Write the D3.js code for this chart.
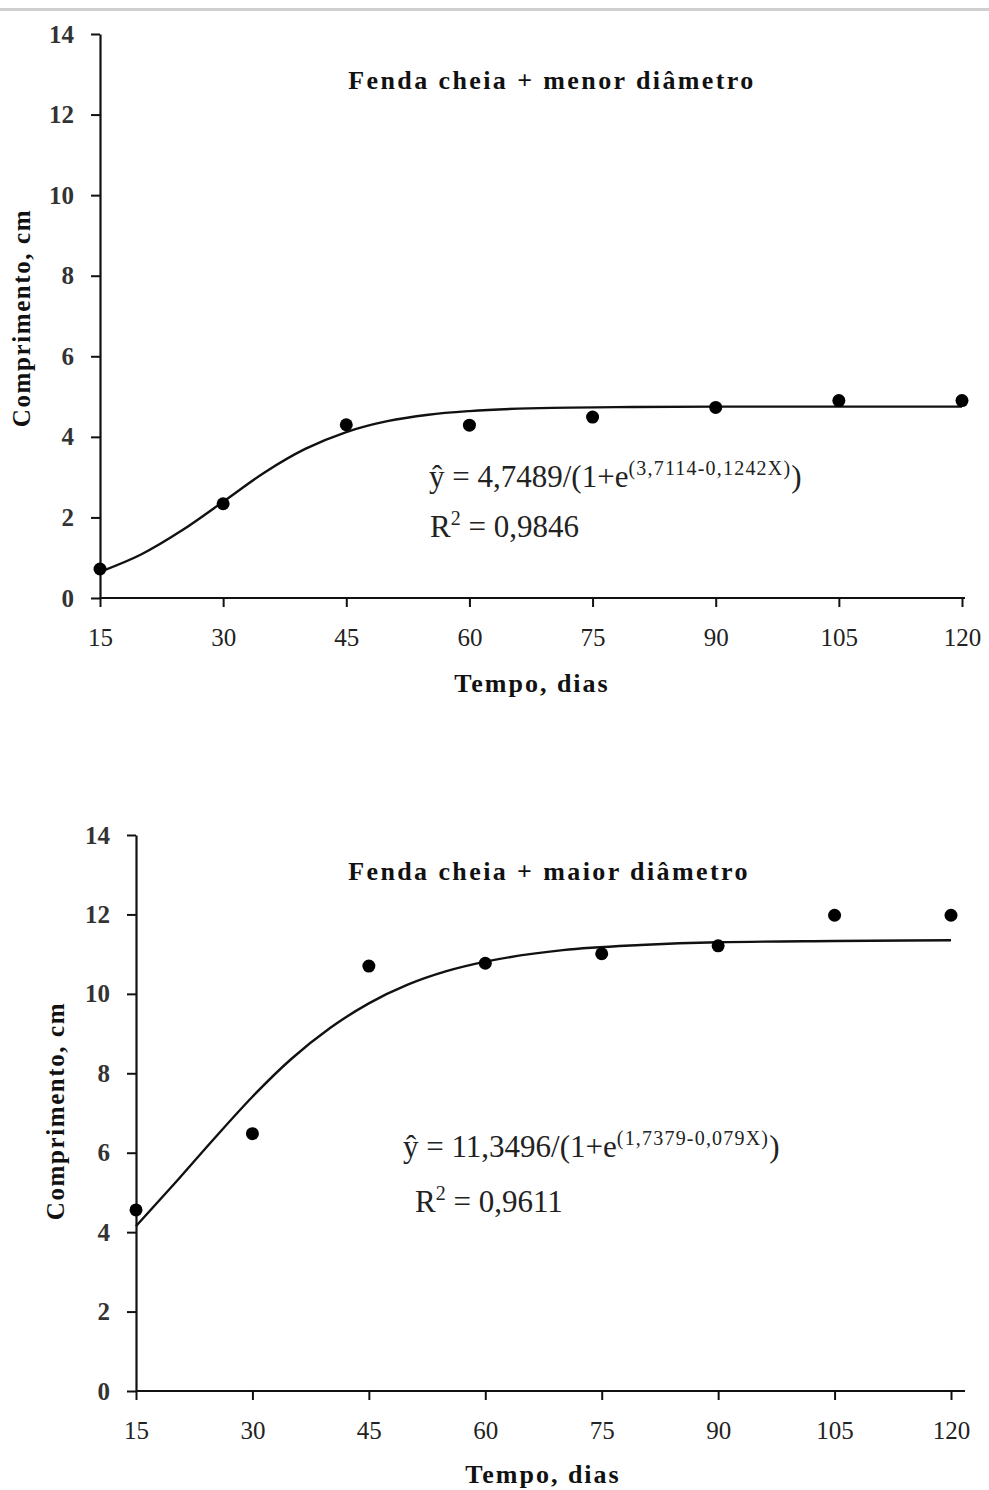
<!DOCTYPE html>
<html><head><meta charset="utf-8">
<script src="https://cdn.jsdelivr.net/npm/d3@7"></script>
<style>
body{margin:0;background:#fff;}
svg{display:block;font-family:"Liberation Serif","Times New Roman",serif;}
</style></head>
<body>
<script>
// ---- data ----
const days = [15, 30, 45, 60, 75, 90, 105, 120];
const yTicks = [0, 2, 4, 6, 8, 10, 12, 14];
const menorObs = [0.72, 2.34, 4.30, 4.29, 4.49, 4.73, 4.90, 4.90];
const maiorObs = [4.56, 6.48, 10.70, 10.77, 11.01, 11.21, 11.98, 11.98];
// fitted curve
const curveX = [15, 20, 25, 30, 35, 40, 45, 50, 55, 60, 70, 80, 90, 105, 120];
const menorFit = [0.65, 1.08, 1.68, 2.39, 3.11, 3.70, 4.12, 4.39, 4.55, 4.64, 4.72, 4.74, 4.75, 4.75, 4.75];
const maiorFit = [4.15, 5.23, 6.34, 7.41, 8.36, 9.14, 9.76, 10.23, 10.57, 10.81, 11.10, 11.23, 11.30, 11.33, 11.35];
const titles = ["Fenda cheia + menor diâmetro", "Fenda cheia + maior diâmetro"];
const eqs = [["4,7489/(1+e", "(3,7114-0,1242X)", ")"], ["11,3496/(1+e", "(1,7379-0,079X)", ")"]];
const r2 = ["0,9846", "0,9611"];
const xTitle = "Tempo, dias";
const yTitle = "Comprimento, cm";

const W = 989, H = 1490;
const svg = d3.select("body").append("svg").attr("width", W).attr("height", H);

svg.append("rect").attr("x", 0).attr("y", 8).attr("width", W).attr("height", 3).attr("fill", "#cfcfcf");

const panels = [
  {obs: menorObs, fit: menorFit, x0: 100, x1: 962, y0: 598, y1: 34, axisEnd: 965,
   title: titles[0], tx: 552, ty: 89, eq: eqs[0], ex: 429, ey: 487, r: r2[0], rx: 430, ry: 537,
   ytx: 30, yty: 318, xtx: 532, xty: 692},
  {obs: maiorObs, fit: maiorFit, x0: 136, x1: 951, y0: 1391, y1: 835, axisEnd: 965,
   title: titles[1], tx: 549, ty: 880, eq: eqs[1], ex: 403, ey: 1157, r: r2[1], rx: 415, ry: 1212,
   ytx: 64, yty: 1111, xtx: 543, xty: 1483}
];

panels.forEach(p => {
  const x = d3.scaleLinear().domain([15, 120]).range([p.x0, p.x1]);
  const y = d3.scaleLinear().domain([0, 14]).range([p.y0, p.y1]);
  const g = svg.append("g");

  // y axis
  const ya = g.append("g").attr("transform", `translate(${p.x0},0)`)
    .call(d3.axisLeft(y).tickValues(yTicks).tickSize(9).tickSizeOuter(0).tickPadding(17));
  ya.select(".domain").attr("stroke", "#111").attr("stroke-width", 2.2);
  ya.selectAll(".tick line").attr("stroke", "#111").attr("stroke-width", 2);
  ya.selectAll(".tick text").attr("font-size", 25).attr("font-weight", "bold")
    .attr("font-family", '"Liberation Serif",serif').attr("fill", "#333");

  // x axis
  const xa = g.append("g").attr("transform", `translate(0,${p.y0})`)
    .call(d3.axisBottom(x).tickValues(days).tickSize(9).tickSizeOuter(0).tickPadding(21));
  xa.select(".domain").attr("d", `M${p.x0},0H${p.axisEnd}`).attr("stroke", "#111").attr("stroke-width", 2.2);
  xa.selectAll(".tick line").attr("stroke", "#111").attr("stroke-width", 2);
  xa.selectAll(".tick text").attr("font-size", 25)
    .attr("font-family", '"Liberation Serif",serif').attr("fill", "#222");

  // fitted curve
  const line = d3.line().x((d, i) => x(curveX[i])).y(d => y(d)).curve(d3.curveMonotoneX);
  g.append("path").datum(p.fit).attr("d", line).attr("fill", "none")
    .attr("stroke", "#111").attr("stroke-width", 2.4);

  // observations
  g.selectAll("circle.pt").data(p.obs).join("circle").attr("class", "pt")
    .attr("cx", (d, i) => x(days[i])).attr("cy", d => y(d)).attr("r", 6.5).attr("fill", "#000");

  // title
  g.append("text").attr("x", p.tx).attr("y", p.ty).attr("text-anchor", "middle")
    .attr("font-size", 26).attr("font-weight", "bold").attr("letter-spacing", 2.4)
    .attr("fill", "#111").text(p.title);

  // equation
  const eq = g.append("text").attr("x", p.ex).attr("y", p.ey).attr("font-size", 31).attr("fill", "#222");
  eq.append("tspan").text("ŷ = " + p.eq[0]);
  eq.append("tspan").attr("font-size", 20).attr("letter-spacing", 1.2).attr("dy", -12).text(p.eq[1]);
  eq.append("tspan").attr("dy", 12).text(p.eq[2]);

  const rt = g.append("text").attr("x", p.rx).attr("y", p.ry).attr("font-size", 31).attr("fill", "#222");
  rt.append("tspan").text("R");
  rt.append("tspan").attr("font-size", 20).attr("dy", -12).text("2");
  rt.append("tspan").attr("dy", 12).text(" = " + p.r);

  // axis titles
  g.append("text").attr("transform", `translate(${p.ytx},${p.yty}) rotate(-90)`)
    .attr("text-anchor", "middle").attr("font-size", 25).attr("font-weight", "bold")
    .attr("letter-spacing", 1.6).attr("fill", "#111").text(yTitle);
  g.append("text").attr("x", p.xtx).attr("y", p.xty).attr("text-anchor", "middle")
    .attr("font-size", 26).attr("font-weight", "bold").attr("letter-spacing", 2)
    .attr("fill", "#111").text(xTitle);
});
</script>
</body></html>
